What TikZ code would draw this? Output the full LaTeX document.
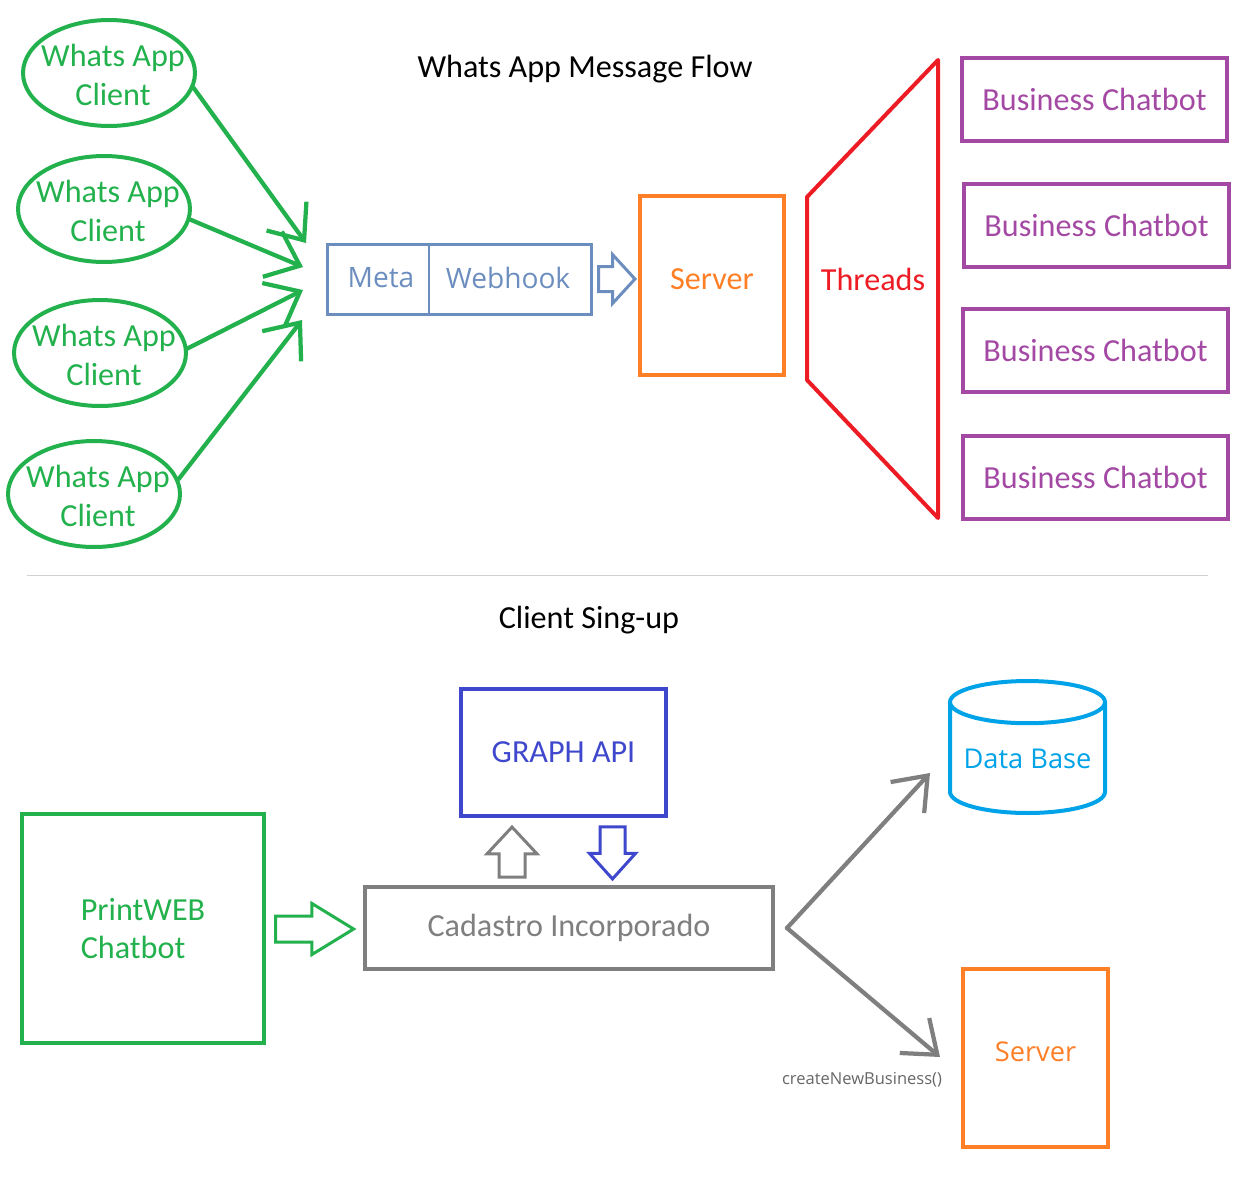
\documentclass[tikz,border=0pt]{standalone}
\usepackage{fontspec}
\setmainfont{Carlito}
\newfontfamily\segoe{Open Sans}
\usetikzlibrary{arrows.meta,shapes.geometric,shapes.arrows}

\definecolor{wagreen}{HTML}{22B14C}
\definecolor{metablue}{HTML}{6C8EBF}
\definecolor{srvorange}{HTML}{FF7F27}
\definecolor{thredred}{HTML}{ED1C24}
\definecolor{botpurple}{HTML}{A349A4}
\definecolor{graphblue}{HTML}{3F48CC}
\definecolor{cadgray}{HTML}{7F7F7F}
\definecolor{dbcyan}{HTML}{00A2E8}

\begin{document}
\begin{tikzpicture}[x=0.02cm,y=-0.02cm,
	txt/.style={font=\fontsize{18.3}{21.6}\selectfont},
	segtxt/.style={font=\segoe\fontsize{16}{19}\selectfont},
	client/.style={ellipse,draw=wagreen,line width=0.08cm,
		minimum width=3.44cm,minimum height=2.12cm,inner sep=0pt},
	box/.style={draw=#1,text=#1,line width=0.08cm,inner sep=0pt,txt},
	wa/.style={draw=wagreen,line width=0.085cm,line cap=round,-{Straight Barb[length=17pt,width=28pt]}},
	ga/.style={draw=cadgray,line width=0.085cm,line cap=round,-{Straight Barb[length=17pt,width=26pt]}},
	push/.style={single arrow,draw=#1,line width=0.06cm,single arrow head indent=0pt}]

	\useasboundingbox (0,0) rectangle (1256,1180);

	\node[txt] (title) at (585,69) {Whats App Message Flow};

	\foreach \i/\x/\y in {1/109/73, 2/104/209, 3/100/353, 4/94/494}
	{
		\node[client] (client\i) at (\x,\y) {};
		\node[txt,text=wagreen,align=center,font=\fontsize{18.3}{22.3}\selectfont] (clientname\i) at (\x+4,\y+2) {Whats App\\Client};
	}

	\node[box=metablue,minimum width=5.3cm,minimum height=1.4cm,line width=0.06cm] (webhook) at (459.5,279) {};
	\node[segtxt,text=metablue] (meta) at (381,278) {Meta};
	\node[segtxt,text=metablue] (hook) at (508,278) {Webhook};
	\draw[metablue,line width=0.025cm] (429,244) -- (429,314);

	\coordinate (in1) at (306,243);
	\coordinate (in2) at (303,267);
	\coordinate (in3) at (303,290);
	\coordinate (in4) at (302,320);
	\draw[wa] (client1.-10) -- (in1);
	\draw[wa] (client2.-7) -- (in2);
	\draw[wa] (client3.3) -- (in3);
	\draw[wa] (client4.10) -- (in4);

	\node[push=metablue,minimum height=0.72cm,inner sep=0.22cm,
		single arrow head extend=0.24cm,single arrow tip angle=95] (toserver) at (611,279) {};
	\node[box=srvorange,minimum width=2.88cm,minimum height=3.58cm,text depth=0.26cm] (server) at (712,285.5) {Server};

	\draw[thredred,line width=0.08cm,line join=round] (938,60) -- (807,197) -- (807,380) -- (938,518) -- cycle;
	\node[txt,text=thredred] (threads) at (873,279) {Threads};

	\foreach \i/\x/\y in {1/1094.5/99.5, 2/1096.5/225.5, 3/1095.5/350.5, 4/1095.5/477.5}
	{
		\node[box=botpurple,minimum width=5.3cm,minimum height=1.66cm] (bot\i) at (\x,\y) {Business Chatbot};
	}

	\draw[black!18,line width=0.02cm] (27,575) -- (1208,575);

	\node[txt] (title2) at (589,620) {Client Sing-up};

	\node[box=graphblue,minimum width=4.1cm,minimum height=2.54cm] (graph) at (563.5,752.5) {GRAPH API};
	\node[box=wagreen,minimum width=4.84cm,minimum height=4.58cm,align=left] (printweb) at (143,928.5) {PrintWEB\\Chatbot};
	\node[box=cadgray,minimum width=8.16cm,minimum height=1.64cm] (cad) at (569,928) {Cadastro Incorporado};

	\node[push=wagreen,minimum height=1.56cm,inner sep=0.23cm,
		single arrow head extend=0.25cm,single arrow tip angle=63] (tocad) at (304,929) {};
	\node[push=cadgray,minimum height=1.0cm,inner sep=0.23cm,shape border rotate=90,
		single arrow head extend=0.24cm,single arrow tip angle=86] (ask) at (512,859) {};
	\node[push=graphblue,minimum height=1.04cm,inner sep=0.22cm,shape border rotate=270,
		single arrow head extend=0.21cm,single arrow tip angle=84] (answer) at (612.5,846) {};

	\node[cylinder,shape border rotate=90,draw=dbcyan,text=dbcyan,line width=0.08cm,aspect=0.33,
		minimum width=3.1cm,minimum height=2.64cm,inner sep=0pt,anchor=shape center,
		font=\segoe\fontsize{15.5}{18}\selectfont] (db) at (1027.5,747) {Data Base};
	\node[box=srvorange,minimum width=2.9cm,minimum height=3.56cm,text depth=0.24cm,
		font=\segoe\fontsize{15.5}{18}\selectfont] (server2) at (1035.5,1058) {Server};

	\coordinate (fork) at ([xshift=0.24cm]cad.east);
	\coordinate (dbin) at (930,773);
	\coordinate (srvin) at (940,1057);
	\draw[ga] (fork) -- (dbin);
	\draw[ga] (fork) -- (srvin);
	\node[text=black!60,font=\segoe\fontsize{9.4}{11}\selectfont] (create) at (862,1080) {createNewBusiness()};

\end{tikzpicture}
\end{document}
